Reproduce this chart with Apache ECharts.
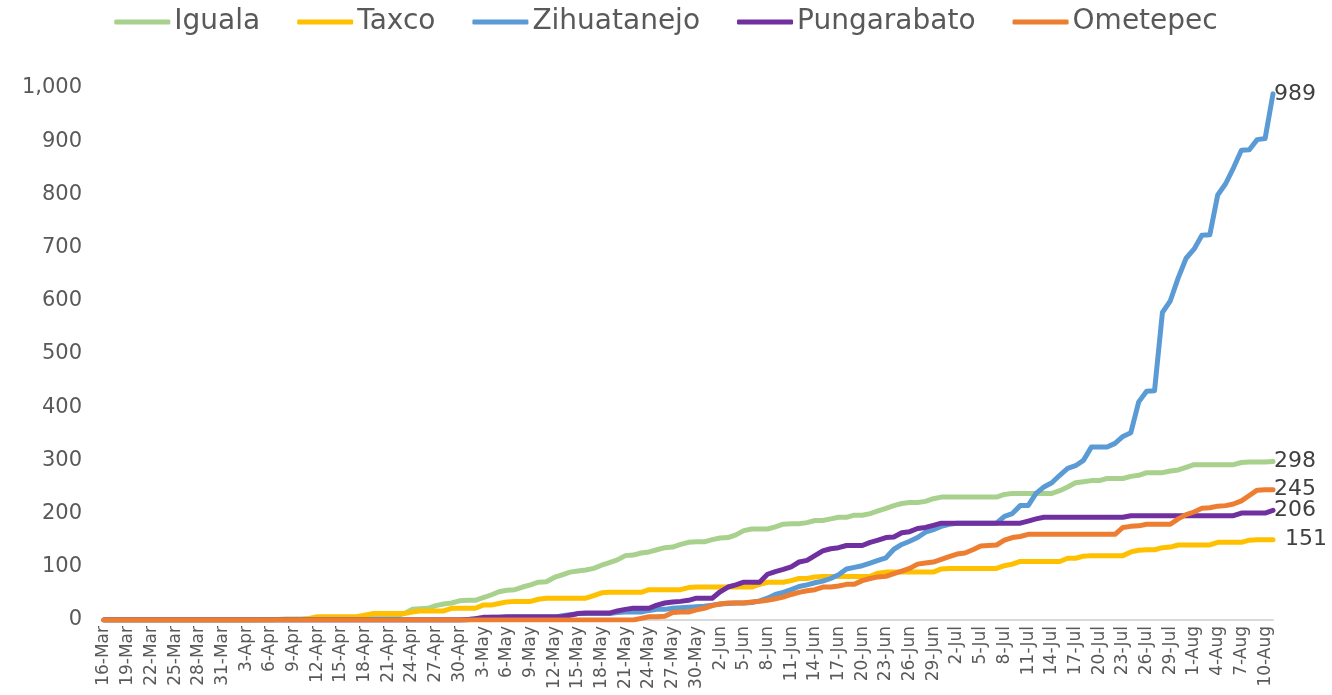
<!DOCTYPE html>
<html>
<head>
<meta charset="UTF-8">
<title>Casos acumulados</title>
<style type="text/css">
	html,body{margin:0;padding:0;width:100%;height:100%;background:#fff;}
	#main{width:1332px;height:695px;}
</style>
</head>
<body>
<div id="main"></div>
<script src="https://cdn.jsdelivr.net/npm/echarts@6/dist/echarts.min.js"></script>
<script>
// fechas (16-Mar a 11-Aug)
var fechas = [
	'16-Mar','17-Mar','18-Mar','19-Mar','20-Mar','21-Mar','22-Mar','23-Mar','24-Mar','25-Mar','26-Mar','27-Mar','28-Mar','29-Mar','30-Mar','31-Mar',
	'1-Apr','2-Apr','3-Apr','4-Apr','5-Apr','6-Apr','7-Apr','8-Apr','9-Apr','10-Apr','11-Apr','12-Apr','13-Apr','14-Apr','15-Apr',
	'16-Apr','17-Apr','18-Apr','19-Apr','20-Apr','21-Apr','22-Apr','23-Apr','24-Apr','25-Apr','26-Apr','27-Apr','28-Apr','29-Apr','30-Apr',
	'1-May','2-May','3-May','4-May','5-May','6-May','7-May','8-May','9-May','10-May','11-May','12-May','13-May','14-May','15-May','16-May',
	'17-May','18-May','19-May','20-May','21-May','22-May','23-May','24-May','25-May','26-May','27-May','28-May','29-May','30-May','31-May',
	'1-Jun','2-Jun','3-Jun','4-Jun','5-Jun','6-Jun','7-Jun','8-Jun','9-Jun','10-Jun','11-Jun','12-Jun','13-Jun','14-Jun','15-Jun',
	'16-Jun','17-Jun','18-Jun','19-Jun','20-Jun','21-Jun','22-Jun','23-Jun','24-Jun','25-Jun','26-Jun','27-Jun','28-Jun','29-Jun','30-Jun',
	'1-Jul','2-Jul','3-Jul','4-Jul','5-Jul','6-Jul','7-Jul','8-Jul','9-Jul','10-Jul','11-Jul','12-Jul','13-Jul','14-Jul','15-Jul','16-Jul',
	'17-Jul','18-Jul','19-Jul','20-Jul','21-Jul','22-Jul','23-Jul','24-Jul','25-Jul','26-Jul','27-Jul','28-Jul','29-Jul','30-Jul','31-Jul',
	'1-Aug','2-Aug','3-Aug','4-Aug','5-Aug','6-Aug','7-Aug','8-Aug','9-Aug','10-Aug','11-Aug'
];

var iguala = [
	0,0,0,0,0,0,0,0,0,0,0,0,0,0,0,0,0,0,0,0,
	1,1,1,2,2,2,2,
	3,3,4,4,4,5,5,6,6,7,8,
	12,20,21,22,27,30,32,36,37,37,42,
	47,53,56,57,62,66,71,72,80,85,90,
	92,94,97,103,108,113,121,122,126,128,132,
	136,137,142,146,147,147,151,154,155,160,168,
	171,171,171,175,180,181,181,183,187,187,190,
	193,193,197,197,200,205,210,215,219,221,221,
	223,228,231,231,231,231,231,231,231,231,236,
	238,238,238,238,238,238,243,250,258,260,262,
	262,266,266,266,270,272,277,277,277,280,282,
	287,292,292,292,292,292,292,296,297,297,297,298
];

var taxco = [
	0,0,0,0,0,0,0,0,0,0,0,0,0,0,0,0,0,0,0,0,
	0,0,1,1,1,1,3,
	6,6,6,6,6,6,9,12,12,12,12,
	12,15,17,17,17,17,22,22,22,22,28,
	28,31,34,35,35,35,39,41,41,41,41,
	41,41,46,51,52,52,52,52,52,57,57,
	57,57,57,61,62,62,62,62,62,62,62,
	62,67,71,71,71,74,78,78,81,82,82,
	82,82,82,82,82,88,90,90,90,90,90,
	90,90,96,97,97,97,97,97,97,97,102,
	105,110,110,110,110,110,110,116,116,120,121,
	121,121,121,121,128,131,132,132,136,137,141,
	141,141,141,141,146,146,146,146,150,151,151,151
];

var zihuatanejo = [
	0,0,0,0,0,0,0,0,0,0,0,0,0,0,0,0,0,0,0,0,
	0,0,0,0,0,0,0,
	0,0,0,0,0,0,0,0,0,0,0,
	0,0,0,0,0,0,0,0,0,3,4,
	5,5,5,5,5,5,5,5,5,8,10,
	12,12,12,12,12,14,15,15,15,18,20,
	20,22,23,24,25,26,28,30,31,32,32,
	33,36,41,48,52,57,63,66,70,73,78,
	85,96,99,102,107,112,117,133,142,148,155,
	165,170,176,180,182,182,182,182,182,182,195,
	200,215,215,238,250,258,272,285,290,300,325,
	325,325,332,345,352,410,430,431,578,600,643,
	680,697,723,724,799,820,850,883,884,903,905,989
];

var pungarabato = [
	0,0,0,0,0,0,0,0,0,0,0,0,0,0,0,0,0,0,0,0,
	0,0,0,0,0,0,0,
	0,0,0,0,0,0,0,0,0,0,0,
	0,0,0,0,0,0,0,0,1,2,5,
	5,5,6,6,6,6,6,6,6,6,9,
	12,13,13,13,13,17,20,22,22,22,28,
	32,34,35,37,41,41,41,53,62,66,71,
	71,71,86,91,95,100,109,112,121,130,134,
	136,140,140,140,146,150,155,156,164,166,172,
	174,178,182,182,182,182,182,182,182,182,182,
	182,182,186,190,193,193,193,193,193,193,193,
	193,193,193,193,196,196,196,196,196,196,196,
	196,196,196,196,196,196,196,201,201,201,201,206
];

var ometepec = [
	0,0,0,0,0,0,0,0,0,0,0,0,0,0,0,0,0,0,0,0,
	0,0,0,0,0,0,0,
	0,0,0,0,0,0,0,0,0,0,0,
	0,0,0,0,0,0,0,0,0,0,0,
	0,0,0,0,0,0,0,0,0,0,0,
	0,0,0,0,0,0,0,0,3,6,6,
	7,14,15,15,19,22,27,30,32,32,32,
	34,35,37,40,43,48,52,55,57,62,62,
	64,67,67,74,78,81,82,87,92,97,105,
	107,109,114,119,124,126,132,139,140,141,150,
	155,157,161,161,161,161,161,161,161,161,161,
	161,161,161,174,176,177,180,180,180,180,190,
	198,203,210,211,214,215,218,224,234,244,245,245
];

var nombres = ['Iguala', 'Taxco', 'Zihuatanejo', 'Pungarabato', 'Ometepec'];
var colores = ['#A9D18E', '#FFC000', '#5B9BD5', '#7030A0', '#ED7D31'];
var datos = [iguala, taxco, zihuatanejo, pungarabato, ometepec];
var distancias = [1, 12, 1, 1, 1];

var fuente = 'DejaVu Sans';
var gris = '#595959';

var series = [];
for (var i = 0; i < nombres.length; i++) {
	series.push({
		name: nombres[i],
		type: 'line',
		data: datos[i],
		symbol: 'none',
		showSymbol: false,
		smooth: false,
		color: colores[i],
		lineStyle: { width: 5, color: colores[i], join: 'round', cap: 'round' },
		emphasis: { disabled: true },
		endLabel: {
			show: true,
			distance: distancias[i],
			color: '#404040',
			fontFamily: fuente,
			fontSize: 22,
			formatter: function (p) { return p.value; }
		}
	});
}

var myChart = echarts.init(document.getElementById('main'));
myChart.setOption({
	animation: false,
	backgroundColor: '#ffffff',
	textStyle: { fontFamily: fuente },
	legend: {
		data: nombres,
		top: 3,
		left: 'center',
		icon: 'roundRect',
		itemWidth: 56,
		itemHeight: 5,
		itemGap: 37,
		textStyle: { fontFamily: fuente, fontSize: 28, color: gris, padding: [0, 0, 0, -1] }
	},
	grid: { left: 104, right: 59, top: 88, bottom: 75, containLabel: false },
	xAxis: {
		type: 'category',
		boundaryGap: false,
		data: fechas,
		axisLine: { lineStyle: { color: '#D9D9D9', width: 2 } },
		axisTick: { show: false },
		axisLabel: {
			interval: 2,
			rotate: 90,
			margin: 6,
			fontFamily: fuente,
			fontSize: 17,
			color: gris
		}
	},
	yAxis: {
		type: 'value',
		min: 0,
		max: 1000,
		interval: 100,
		splitLine: { show: false },
		axisLine: { show: false },
		axisTick: { show: false },
		axisLabel: {
			margin: 22,
			fontFamily: fuente,
			fontSize: 21,
			color: gris,
			formatter: function (v) { return v.toLocaleString('en-US'); }
		}
	},
	series: series
});
</script>
</body>
</html>
